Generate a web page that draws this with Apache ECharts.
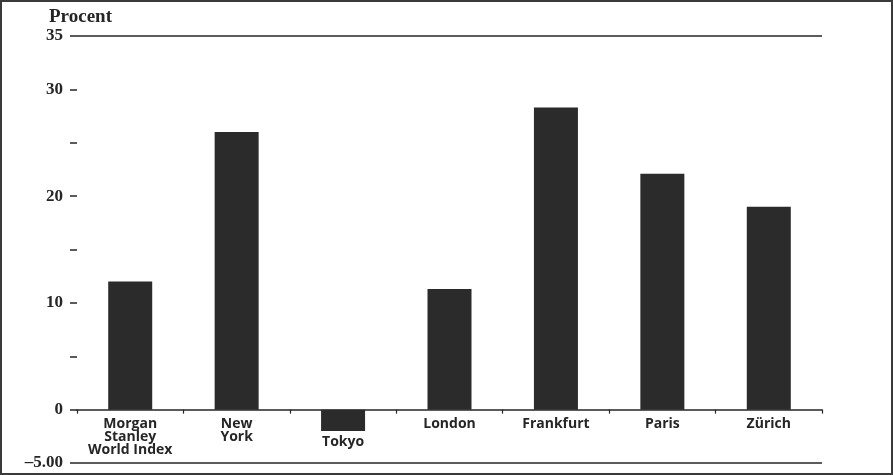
<!DOCTYPE html>
<html>
<head>
<meta charset="utf-8">
<script src="https://cdn.jsdelivr.net/npm/echarts@6/dist/echarts.min.js"></script>
<style>
  html, body { margin: 0; padding: 0; background: #fff; }
  .wrap { position: relative; width: 893px; height: 475px; }
  #chart { width: 893px; height: 475px; }
  .frame {
    position: absolute; left: 0; top: 0; right: 0; bottom: 0;
    border: 2px solid #3a3a3a; pointer-events: none;
  }
</style>
</head>
<body>
<div class="wrap">
  <div id="chart"></div>
  <div class="frame"></div>
</div>
<script>
// categories and values (percent)
const markets = ['Morgan\nStanley\nWorld Index', 'New\nYork', 'Tokyo', 'London', 'Frankfurt', 'Paris', 'Zürich']
const change = [12.0, 26.0, -2.0, 11.3, 28.3, 22.1, 19.0]

// y axis labels, only some ticks are labelled
const yLabelValues = [-5, 0, 10, 20, 30, 35]
const yLabelTexts = ['–5.00', '0', '10', '20', '30', '35']
const yMin = -5
const yMax = 35

const ink = '#262626'
const gridTop = 36
const gridBottom = 12
const plotH = 475 - gridTop - gridBottom
// v6 keeps category labels at the grid edge even with onZero,
// so shift the whole x axis up to the zero line instead
const zeroOffset = -plotH * (0 - yMin) / (yMax - yMin)

// labels under a negative bar sit below the bar
const categoryData = markets.map((name, i) => (
  change[i] < 0 ? { value: name, textStyle: { padding: [18, 0, 0, 0] } } : name
))

const chart = echarts.init(document.getElementById('chart'))

chart.setOption({
  backgroundColor: '#fff',
  animation: false,
  title: {
    text: 'Procent',
    left: 44,
    top: 3,
    textStyle: { fontFamily: 'Liberation Serif', fontWeight: 'bold', fontSize: 19, color: ink }
  },
  grid: { left: 77, right: 71, top: gridTop, bottom: gridBottom, outerBoundsMode: 'none', containLabel: false },
  xAxis: {
    type: 'category',
    data: categoryData,
    offset: zeroOffset,
    axisLine: { onZero: false, lineStyle: { color: ink, width: 1.5 } },
    axisTick: { show: true, length: 4, lineStyle: { color: ink, width: 1.2 } },
    axisLabel: {
      interval: 0,
      margin: 8,
      color: ink,
      fontFamily: 'Open Sans',
      fontWeight: 'bold',
      fontSize: 14,
      lineHeight: 13
    }
  },
  yAxis: {
    type: 'value',
    min: yMin,
    max: yMax,
    interval: 5,
    axisLine: { show: false },
    splitLine: { show: false },
    axisTick: { show: true, length: 7, lineStyle: { color: ink, width: 1.5 } },
    axisLabel: {
      margin: 14,
      color: ink,
      fontFamily: 'Liberation Serif',
      fontWeight: 'bold',
      fontSize: 17,
      formatter: v => {
        const i = yLabelValues.indexOf(v)
        return i >= 0 ? yLabelTexts[i] : ''
      }
    }
  },
  series: [
    {
      type: 'bar',
      data: change,
      barWidth: 44,
      itemStyle: { color: '#2b2b2b' },
      markLine: {
        silent: true,
        symbol: 'none',
        label: { show: false },
        lineStyle: { color: ink, width: 1.5, type: 'solid' },
        data: [{ yAxis: yMax }, { yAxis: yMin }]
      }
    }
  ]
})
</script>
</body>
</html>
